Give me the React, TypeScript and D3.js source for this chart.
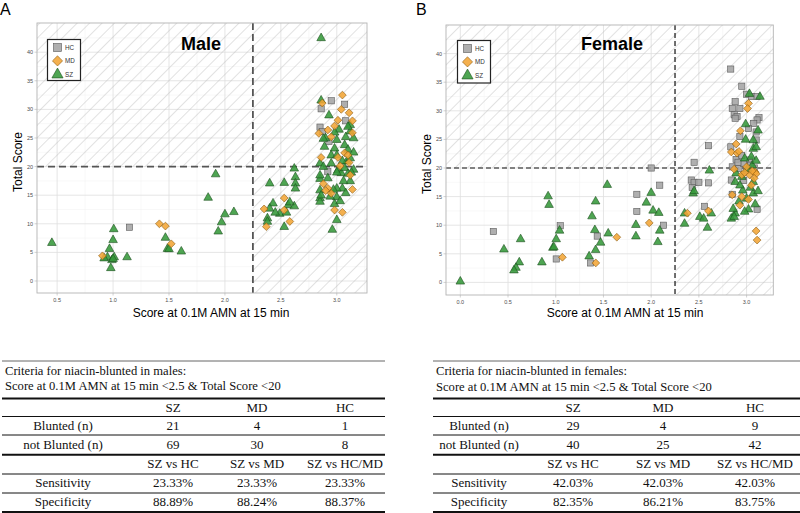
import * as d3 from 'd3';

type Pt = [number, number];

// ---- scatter data: [score at 0.1M AMN at 15 min, total score] ----
const maleHC: Pt[] = [
  [1.146, 9.4], [2.86, 30.1], [2.95, 31.5], [3.07, 30.9], [2.85, 26.9], [2.87, 26.1],
  [3.08, 28.0], [2.93, 24.4], [2.92, 19.1],
];
const maleMD: Pt[] = [
  [0.905, 4.4], [1.414, 10.0], [1.468, 9.6], [1.52, 6.5],
  [2.35, 12.6], [2.37, 9.5], [2.53, 14.5], [2.53, 12.4], [2.58, 10.4],
  [2.87, 31.1], [3.05, 32.5], [3.04, 30.0], [3.11, 29.4], [2.84, 25.8], [2.92, 26.4],
  [2.98, 27.1], [3.01, 28.1], [3.14, 28.0], [3.14, 25.9], [2.95, 25.2], [3.07, 22.4],
  [2.86, 21.6], [3.01, 21.6], [3.11, 20.7], [3.03, 20.1], [3.12, 18.5], [2.88, 17.0],
  [2.92, 16.2], [2.95, 15.3], [3.14, 16.0], [2.98, 12.4], [3.05, 12.0], [2.9, 15.8], [3.1, 22.0],
];
const maleSZ: Pt[] = [
  [0.453, 6.7], [1.006, 9.1], [1.0, 7.2], [0.968, 5.65], [0.95, 4.2], [1.01, 4.2], [0.99, 3.7],
  [0.98, 2.3], [1.125, 4.2], [0.92, 4.0], [1.0, 3.9], [1.468, 7.6], [1.486, 5.65], [1.5, 5.6],
  [1.61, 5.2], [1.917, 18.7], [1.85, 14.6], [2.0, 11.7], [2.08, 12.1], [1.97, 10.3], [1.94, 8.7],
  [2.4, 17.1], [2.53, 17.2], [2.62, 19.7], [2.63, 18.2], [2.63, 17.1], [2.63, 16.2], [2.43, 13.6],
  [2.4, 12.7], [2.38, 11.0], [2.38, 10.4], [2.49, 11.8], [2.565, 13.3], [2.62, 13.1], [2.53, 9.5],
  [2.55, 12.0], [2.45, 12.0], [2.58, 13.8],
  [2.86, 42.5], [2.86, 31.6], [2.93, 29.0], [3.12, 27.3], [3.12, 26.2], [3.1, 27.0], [2.89, 23.5],
  [3.0, 24.7], [3.08, 25.2], [3.15, 25.0], [2.98, 23.2], [3.07, 23.8], [2.85, 20.6], [2.95, 20.6],
  [3.09, 21.0], [3.15, 19.5], [3.01, 19.4], [3.04, 18.9], [3.0, 19.0], [3.07, 19.8], [3.1, 18.8],
  [2.85, 17.9], [2.85, 18.5], [2.85, 15.9], [2.85, 14.5], [2.85, 13.9], [2.86, 15.0], [3.0, 14.7],
  [3.05, 16.2], [3.0, 16.2], [3.08, 15.4], [3.0, 10.7], [2.96, 9.0], [2.98, 13.5], [2.97, 16.0],
  [3.03, 14.0], [3.12, 21.5], [3.12, 17.5], [2.95, 22.0], [2.9, 25.0], [2.88, 24.9], [3.02, 26.5],
  [3.05, 21.0], [3.1, 23.0], [3.13, 19.0], [2.92, 18.0], [2.94, 14.8], [3.06, 17.5], [2.88, 20.0],
  [3.0, 22.0], [3.15, 22.5], [2.98, 26.0],
];

const femaleHC: Pt[] = [
  [0.346, 8.9], [1.047, 9.9], [1.005, 4.1], [1.435, 8.1], [1.365, 3.4], [1.85, 15.4], [1.85, 12.4],
  [2.13, 10.0], [2.0, 20.0], [2.09, 17.0],
  [2.834, 37.3], [2.95, 34.3], [3.0, 32.9], [3.05, 32.5], [3.11, 32.5], [2.88, 31.6], [2.85, 30.4],
  [2.93, 30.4], [2.87, 29.3], [2.9, 29.0], [3.13, 28.8], [3.11, 28.4], [3.075, 27.8], [3.02, 26.9],
  [3.1, 26.3], [2.93, 25.5], [3.1, 24.9], [2.6, 23.9], [2.835, 23.7], [2.45, 21.0], [2.89, 21.5],
  [3.03, 21.4], [2.85, 20.2], [2.92, 19.9], [3.0, 19.6], [2.42, 17.9], [2.45, 17.5], [2.5, 17.5],
  [2.43, 16.6], [2.6, 17.4], [2.84, 17.9], [2.97, 17.8], [2.85, 15.4], [2.56, 13.3], [3.11, 12.8],
  [2.97, 20.8], [3.08, 20.0], [2.88, 28.7], [2.95, 22.2], [3.04, 20.5], [2.91, 21.0],
];
const femaleMD: Pt[] = [
  [1.07, 4.4], [1.42, 3.4], [1.64, 7.9], [1.98, 10.4],
  [3.02, 31.3], [3.01, 30.4], [2.935, 26.5], [2.89, 24.2], [2.84, 22.8], [2.9, 22.6], [2.92, 22.9],
  [3.0, 20.2], [3.03, 18.8], [3.09, 19.3], [3.1, 19.0], [3.05, 17.0], [2.85, 15.3], [2.95, 15.0],
  [3.02, 14.5], [2.93, 13.5], [3.1, 9.0], [3.11, 7.4], [2.38, 12.1], [2.6, 12.5], [2.95, 18.8],
  [3.06, 19.5], [2.98, 19.2], [3.08, 18.2], [2.87, 19.8],
];
const femaleSZ: Pt[] = [
  [0.0, 0.2], [0.457, 5.8], [0.632, 7.6], [0.618, 3.55], [0.583, 2.6], [0.562, 2.15], [0.855, 3.55],
  [0.92, 15.1], [0.93, 13.6], [1.04, 9.1], [1.005, 7.6], [0.97, 6.1], [0.98, 6.2], [1.418, 14.2],
  [1.38, 11.6], [1.41, 9.2], [1.47, 7.0], [1.418, 5.7], [1.35, 4.6], [1.54, 17.1], [1.55, 8.6],
  [1.84, 10.1], [1.84, 8.1], [2.0, 15.7], [1.95, 14.0], [2.02, 12.6], [2.08, 12.2], [2.09, 9.1],
  [2.07, 7.1],
  [3.03, 33.0], [3.14, 32.5], [2.99, 27.7], [3.12, 26.6], [3.07, 24.9], [3.07, 23.4], [3.1, 23.7],
  [2.98, 21.7], [3.05, 22.0], [3.06, 20.5], [2.61, 19.6], [2.44, 15.6], [2.88, 17.6], [2.96, 16.1],
  [3.07, 17.6], [3.07, 15.6], [3.0, 14.7], [3.09, 13.7], [3.02, 12.8], [2.98, 12.4], [2.88, 12.1],
  [2.84, 11.2], [2.86, 12.9], [2.35, 12.1], [2.35, 10.3], [2.51, 11.5], [2.55, 11.2], [2.63, 12.1],
  [2.59, 9.6], [2.89, 19.1], [2.95, 18.5], [3.01, 19.8], [3.04, 16.6], [2.92, 14.2], [3.1, 21.3],
  [2.99, 25.0], [2.93, 17.0], [2.87, 11.5], [3.12, 16.0], [2.45, 16.0],
];

const maleXTicks = [0.5, 1.0, 1.5, 2.0, 2.5, 3.0];
const femaleXTicks = [0.0, 0.5, 1.0, 1.5, 2.0, 2.5, 3.0];
const yTicks = [0, 5, 10, 15, 20, 25, 30, 35, 40];
const groups = ['HC', 'MD', 'SZ'];
const cutX = 2.25;
const cutY = 20;

// ---- table data ----
const groupCols = ['SZ', 'MD', 'HC'];
const compareCols = ['SZ vs HC', 'SZ vs MD', 'SZ vs HC/MD'];
const maleBlunted = ['21', '4', '1'];
const maleNotBlunted = ['69', '30', '8'];
const maleSensitivity = ['23.33%', '23.33%', '23.33%'];
const maleSpecificity = ['88.89%', '88.24%', '88.37%'];
const femaleBlunted = ['29', '4', '9'];
const femaleNotBlunted = ['40', '25', '42'];
const femaleSensitivity = ['42.03%', '42.03%', '42.03%'];
const femaleSpecificity = ['82.35%', '86.21%', '83.75%'];

const fills: Record<string, string> = { HC: '#a4a4a4', MD: '#f3a535', SZ: '#36993a' };
const strokes: Record<string, string> = { HC: '#5a5a5a', MD: '#8a5a10', SZ: '#1d4f1f' };
const sans = '"Liberation Sans", Arial, sans-serif';
const serif = '"Liberation Serif", "Times New Roman", serif';

function Marker({ g, x, y, s = 1 }: { g: string; x: number; y: number; s?: number }) {
  const common = { fill: fills[g], fillOpacity: 0.88, stroke: strokes[g], strokeWidth: 0.6 };
  if (g === 'HC') {
    const h = 3.1 * s;
    return <rect x={x - h} y={y - h} width={2 * h} height={2 * h} {...common} />;
  }
  if (g === 'MD') {
    const h = 3.9 * s;
    return <path d={`M${x},${y - h}L${x + h},${y}L${x},${y + h}L${x - h},${y}Z`} {...common} />;
  }
  return (
    <path
      d={`M${x},${y - 4.8 * s}L${x + 4.3 * s},${y + 2.8 * s}L${x - 4.3 * s},${y + 2.8 * s}Z`}
      {...common}
    />
  );
}

type PanelProps = {
  id: string;
  letter: string;
  letterX: number;
  title: string;
  titleX: number;
  xDomain: [number, number];
  xRange: [number, number];
  yDomain: [number, number];
  yRange: [number, number];
  xTicks: number[];
  hc: Pt[];
  md: Pt[];
  sz: Pt[];
  dash: { color: string; width: number; array: string };
  legend: { x: number; y: number; w: number; h: number };
  xTitleX: number;
  yTitleX: number;
};

function Panel(p: PanelProps) {
  const x = d3.scaleLinear().domain(p.xDomain).range(p.xRange);
  const y = d3.scaleLinear().domain(p.yDomain).range(p.yRange);
  const [x0, x1] = p.xRange;
  const [yb, yt] = p.yRange;
  const xMinor = d3.range(-0.25, 3.5, 0.5).filter((v) => v > p.xDomain[0] && v < p.xDomain[1]);
  const yMinor = d3.range(2.5, 45, 5).filter((v) => v < p.yDomain[1]);
  const cx = x(cutX);
  const cy = y(cutY);
  const pts: [string, Pt[]][] = [['HC', p.hc], ['SZ', p.sz], ['MD', p.md]];

  return (
    <g>
      <defs>
        <pattern
          id={`hatch-${p.id}`}
          patternUnits="userSpaceOnUse"
          width={8.8}
          height={8.8}
          patternTransform="rotate(45)"
        >
          <line x1={0.3} y1={0} x2={0.3} y2={8.8} stroke="#bcbcbc" strokeWidth={0.55} />
        </pattern>
        <clipPath id={`clip-${p.id}`}>
          <rect x={x0} y={yt} width={x1 - x0} height={yb - yt} />
        </clipPath>
      </defs>
      <text x={p.letterX} y={15} fontFamily={sans} fontSize={16}>
        {p.letter}
      </text>
      <rect x={x0} y={yt} width={x1 - x0} height={yb - yt} fill="#fff" />
      {xMinor.map((v) => (
        <line key={`xm${v}`} x1={x(v)} x2={x(v)} y1={yt} y2={yb} stroke="#f0f0f0" strokeWidth={0.5} />
      ))}
      {yMinor.map((v) => (
        <line key={`ym${v}`} x1={x0} x2={x1} y1={y(v)} y2={y(v)} stroke="#f0f0f0" strokeWidth={0.5} />
      ))}
      {p.xTicks.map((v) => (
        <line key={`xg${v}`} x1={x(v)} x2={x(v)} y1={yt} y2={yb} stroke="#dedede" strokeWidth={0.8} />
      ))}
      {yTicks.map((v) => (
        <line key={`yg${v}`} x1={x0} x2={x1} y1={y(v)} y2={y(v)} stroke="#dedede" strokeWidth={0.8} />
      ))}
      <g clipPath={`url(#clip-${p.id})`}>
        <rect x={x0} y={yt} width={cx - x0} height={cy - yt} fill={`url(#hatch-${p.id})`} />
        <rect x={cx} y={yt} width={x1 - cx} height={yb - yt} fill={`url(#hatch-${p.id})`} />
      </g>
      <line x1={cx} x2={cx} y1={yt} y2={yb} stroke={p.dash.color} strokeWidth={p.dash.width} strokeDasharray={p.dash.array} />
      <line x1={x0} x2={x1} y1={cy} y2={cy} stroke={p.dash.color} strokeWidth={p.dash.width} strokeDasharray={p.dash.array} />
      <g clipPath={`url(#clip-${p.id})`}>
        {pts.map(([g, arr]) =>
          arr.map((d, i) => <Marker key={`${g}${i}`} g={g} x={x(d[0])} y={y(d[1])} />)
        )}
      </g>
      <rect x={x0} y={yt} width={x1 - x0} height={yb - yt} fill="none" stroke="#b3b3b3" strokeWidth={0.9} />
      {p.xTicks.map((v) => (
        <g key={`xt${v}`}>
          <line x1={x(v)} x2={x(v)} y1={yb} y2={yb + 2.5} stroke="#b3b3b3" strokeWidth={0.6} />
          <text x={x(v)} y={yb + 8.5} textAnchor="middle" fontFamily={sans} fontSize={5.5} fill="#4d4d4d">
            {d3.format('.1f')(v)}
          </text>
        </g>
      ))}
      {yTicks.map((v) => (
        <g key={`yt${v}`}>
          <line x1={x0 - 2.5} x2={x0} y1={y(v)} y2={y(v)} stroke="#b3b3b3" strokeWidth={0.6} />
          <text x={x0 - 4} y={y(v) + 2} textAnchor="end" fontFamily={sans} fontSize={5.5} fill="#4d4d4d">
            {v}
          </text>
        </g>
      ))}
      <text x={p.xTitleX} y={317} textAnchor="middle" fontFamily={sans} fontSize={12}>
        Score at 0.1M AMN at 15 min
      </text>
      <text
        transform={`translate(${p.yTitleX},${(yt + yb) / 2 + 4}) rotate(-90)`}
        textAnchor="middle"
        fontFamily={sans}
        fontSize={12}
      >
        Total Score
      </text>
      <text x={p.titleX} y={50} textAnchor="middle" fontFamily={sans} fontSize={18} fontWeight="bold">
        {p.title}
      </text>
      <rect
        x={p.legend.x}
        y={p.legend.y}
        width={p.legend.w}
        height={p.legend.h}
        fill="#fff"
        stroke="#222"
        strokeWidth={1.2}
      />
      {groups.map((g, i) => {
        const ly = p.legend.y + 8 + i * 13.4;
        return (
          <g key={`lg${g}`}>
            <Marker g={g} x={p.legend.x + 10} y={ly} s={1.3} />
            <text x={p.legend.x + 17.5} y={ly + 2.2} fontFamily={sans} fontSize={6.3} fill="#333">
              {g}
            </text>
          </g>
        );
      })}
    </g>
  );
}

type TableProps = {
  left: number;
  right: number;
  cols: number[];
  sex: string;
  blunted: string[];
  notBlunted: string[];
  sens: string[];
  spec: string[];
  titleBase: [number, number];
};

const ruleY = [361, 398.5, 416.5, 435, 454.7, 474, 493, 512];
const ruleW = [1, 2, 1, 1, 2, 1, 1, 2];
const rowBase = [411.5, 430, 448.5, 468, 487, 506];

function CriteriaTable(t: TableProps) {
  const rows: [string, string[]][] = [
    ['', groupCols],
    ['Blunted (n)', t.blunted],
    ['not Blunted (n)', t.notBlunted],
    ['', compareCols],
    ['Sensitivity', t.sens],
    ['Specificity', t.spec],
  ];
  return (
    <g fontFamily={serif} fontSize={13} fill="#111">
      {ruleY.map((ry, i) => (
        <line
          key={`r${i}`}
          x1={t.left}
          x2={t.right}
          y1={ry}
          y2={ry}
          stroke={i === 0 ? '#666' : '#111'}
          strokeWidth={ruleW[i]}
        />
      ))}
      <text x={t.left + 3} y={t.titleBase[0]} fontSize={12.6}>
        {`Criteria for niacin-blunted in ${t.sex}:`}
      </text>
      <text x={t.left + 3} y={t.titleBase[1]} fontSize={12.6}>
        Score at 0.1M AMN at 15 min &lt;2.5 &amp; Total Score &lt;20
      </text>
      {rows.map(([lab, vals], r) => (
        <g key={`row${r}`}>
          <text x={t.cols[0]} y={rowBase[r]} textAnchor="middle">
            {lab}
          </text>
          {vals.map((v, c) => (
            <text key={`c${c}`} x={t.cols[c + 1]} y={rowBase[r]} textAnchor="middle">
              {v}
            </text>
          ))}
        </g>
      ))}
    </g>
  );
}

export default function App() {
  return (
    <svg
      width={800}
      height={513}
      viewBox="0 0 800 513"
      style={{ position: 'absolute', left: 0, top: 0, display: 'block', background: '#fff' }}
    >
      <rect width={800} height={513} fill="#fff" />
      <Panel
        id="m"
        letter="A"
        letterX={0}
        title="Male"
        titleX={201}
        xDomain={[0.32, 3.27]}
        xRange={[37, 367]}
        yDomain={[-2.1, 45.1]}
        yRange={[293, 23]}
        xTicks={maleXTicks}
        hc={maleHC}
        md={maleMD}
        sz={maleSZ}
        dash={{ color: '#555', width: 1.8, array: '7,4' }}
        legend={{ x: 47.5, y: 39.5, w: 33, h: 41 }}
        xTitleX={211}
        yTitleX={22}
      />
      <Panel
        id="f"
        letter="B"
        letterX={416}
        title="Female"
        titleX={612}
        xDomain={[-0.15, 3.28]}
        xRange={[446, 773.3]}
        yDomain={[-2.2, 45]}
        yRange={[295, 25]}
        xTicks={femaleXTicks}
        hc={femaleHC}
        md={femaleMD}
        sz={femaleSZ}
        dash={{ color: '#111', width: 1.2, array: '5,3' }}
        legend={{ x: 457.5, y: 40.5, w: 33, h: 42.5 }}
        xTitleX={625}
        yTitleX={431}
      />
      <CriteriaTable
        left={2}
        right={385}
        cols={[63, 173, 257, 345]}
        sex="males"
        blunted={maleBlunted}
        notBlunted={maleNotBlunted}
        sens={maleSensitivity}
        spec={maleSpecificity}
        titleBase={[375, 389.5]}
      />
      <CriteriaTable
        left={433}
        right={800}
        cols={[479, 573, 663, 755]}
        sex="females"
        blunted={femaleBlunted}
        notBlunted={femaleNotBlunted}
        sens={femaleSensitivity}
        spec={femaleSpecificity}
        titleBase={[375, 390.5]}
      />
    </svg>
  );
}
